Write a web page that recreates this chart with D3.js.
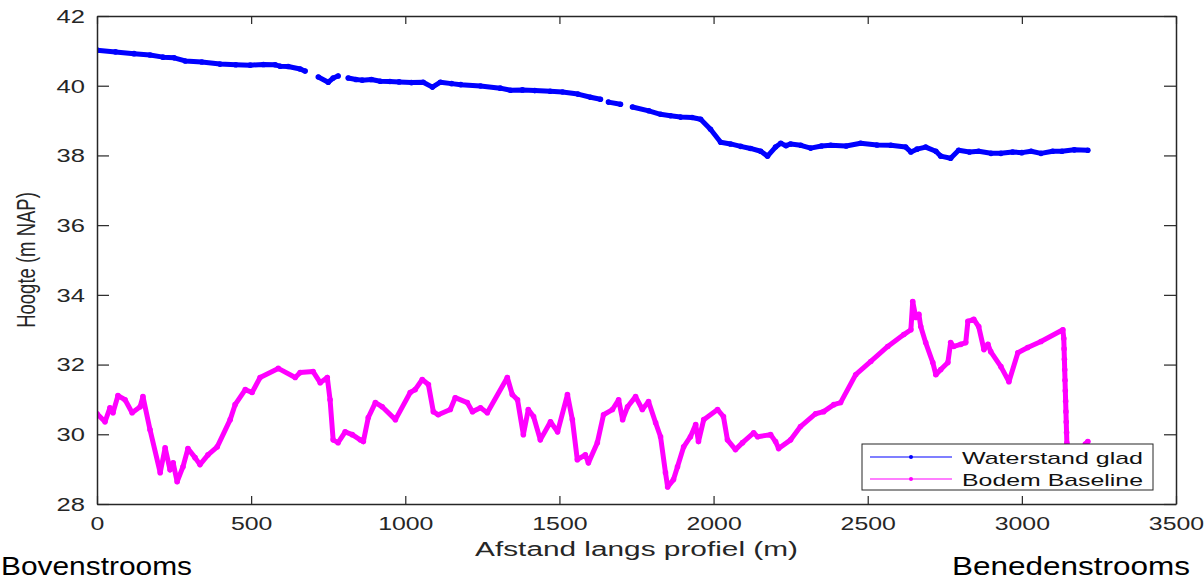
<!DOCTYPE html>
<html>
<head>
<meta charset="utf-8">
<script src="https://cdn.jsdelivr.net/npm/d3@7"></script>
<style>
  html, body { margin: 0; padding: 0; background: #fff; }
  svg { display: block; font-family: Arial, "Liberation Sans", Helvetica, sans-serif; }
</style>
</head>
<body>
<svg id="chart" width="1204" height="580"></svg>
<script>
// ---------- DATA ----------
const xTicks = [0, 500, 1000, 1500, 2000, 2500, 3000, 3500];
const yTicks = [28, 30, 32, 34, 36, 38, 40, 42];

// Waterstand glad (null = gap in the measurements)
const distW = [0, 60, 120, 172, 214, 250, 286, 340, 399, 450, 497, 540, 578, 594, 620, 659, 675, 696,
  718, 750, 766, 782, 800,
  815, 840, 860, 890, 919, 950, 980, 1020, 1058, 1088, 1114, 1150, 1180, 1244, 1308, 1341, 1380, 1420, 1470, 1510, 1560, 1601, 1633, 1646,
  1659, 1698, 1718,
  1737, 1790, 1828, 1860, 1893, 1930, 1958, 1990, 2023, 2055, 2088, 2120, 2153, 2175, 2201, 2218, 2235, 2250, 2283, 2315, 2350, 2380,
  2430, 2477, 2530, 2575, 2623, 2640, 2660, 2688, 2721, 2737, 2769, 2795, 2830, 2860, 2900, 2932, 2970, 3000, 3030, 3062, 3100, 3130, 3170, 3214];
const waterW = [41.02, 40.97, 40.92, 40.88, 40.82, 40.80, 40.71, 40.68, 40.62, 40.60, 40.59, 40.61, 40.60, 40.56, 40.55, 40.48, 40.42, null,
  40.25, 40.10, 40.22, 40.28, null,
  40.22, 40.18, 40.16, 40.18, 40.13, 40.12, 40.11, 40.09, 40.10, 39.96, 40.10, 40.06, 40.03, 39.99, 39.93, 39.87, 39.88, 39.86, 39.84, 39.82, 39.76, 39.67, 39.61, null,
  39.53, 39.47, null,
  39.39, 39.28, 39.18, 39.14, 39.10, 39.09, 39.04, 38.75, 38.38, 38.33, 38.26, 38.20, 38.12, 37.98, 38.24, 38.35, 38.28, 38.33, 38.29, 38.21, 38.27, 38.29,
  38.27, 38.35, 38.30, 38.29, 38.24, 38.10, 38.18, 38.24, 38.12, 37.98, 37.92, 38.15, 38.10, 38.12, 38.06, 38.06, 38.10, 38.08, 38.12, 38.06, 38.12, 38.12, 38.16, 38.15];

// Bodem Baseline
const distB = [0, 26, 42, 52, 68, 91, 114, 140, 149, 172, 205, 221, 237, 247, 260, 279, 295, 318, 334, 360, 390,
  432, 448, 481, 503, 529, 588, 643, 659, 701, 724, 747, 756, 766, 782, 805, 828, 854, 864, 880, 903, 925, 968,
  1016, 1032, 1055, 1075, 1091, 1107, 1146, 1162, 1201, 1218, 1244, 1266, 1331, 1347, 1364, 1383, 1399, 1416,
  1438, 1471, 1494, 1526, 1542, 1558, 1584, 1594, 1623, 1643, 1672, 1692, 1705, 1721, 1747, 1769, 1789, 1812,
  1828, 1844, 1851, 1870, 1883, 1903, 1925, 1942, 1951, 1968, 2013, 2032, 2045, 2071, 2094, 2130, 2143, 2185,
  2201, 2211, 2250, 2282, 2331, 2357, 2390, 2412, 2461, 2510, 2565, 2617, 2640, 2646, 2656, 2666, 2672, 2688,
  2711, 2721, 2737, 2760, 2769, 2779, 2802, 2818, 2825, 2844, 2860, 2877, 2890, 2899, 2932, 2958, 2987, 3019,
  3062, 3133, 3136, 3137, 3138, 3139, 3140, 3141, 3142, 3143, 3144, 3145, 3146, 3147,
  3160, 3206, 3214];
const bodemB = [30.59, 30.36, 30.76, 30.62, 31.11, 30.99, 30.62, 30.79, 31.08, 30.13, 28.90, 29.61, 28.98, 29.18, 28.64, 29.07, 29.59, 29.33, 29.13, 29.41, 29.64,
  30.42, 30.85, 31.28, 31.20, 31.63, 31.89, 31.63, 31.77, 31.80, 31.48, 31.63, 30.99, 29.84, 29.76, 30.07, 29.99, 29.84, 29.79, 30.48, 30.91, 30.79, 30.42,
  31.20, 31.28, 31.57, 31.43, 30.65, 30.56, 30.71, 31.05, 30.91, 30.65, 30.76, 30.62, 31.63, 31.14, 30.99, 29.99, 30.71, 30.51,
  29.84, 30.36, 30.07, 31.14, 30.42, 29.27, 29.41, 29.18, 29.76, 30.56, 30.71, 30.99, 30.42, 30.79, 31.08, 30.71, 30.94, 30.33,
  29.93, 28.90, 28.49, 28.70, 29.07, 29.64, 29.93, 30.28, 29.79, 30.42, 30.71, 30.51, 29.84, 29.56, 29.76, 30.04, 29.93, 29.99,
  29.79, 29.59, 29.84, 30.22, 30.59, 30.65, 30.85, 30.91, 31.71, 32.09, 32.52, 32.86, 33.00, 33.81, 33.35, 33.44, 33.09, 32.63,
  32.06, 31.71, 31.86, 32.06, 32.63, 32.52, 32.58, 32.63, 33.24, 33.30, 33.09, 32.43, 32.58, 32.37, 31.94, 31.51, 32.34, 32.49,
  32.66, 33.00, 32.75, 32.45, 32.15, 31.85, 31.55, 31.25, 30.95, 30.65, 30.35, 30.05, 29.75, 29.50,
  null, 29.72, 29.79];

const seriesNames = ["Waterstand glad", "Bodem Baseline"];
const seriesColors = ["#0000ff", "#ff00ff"];

// ---------- CHART ----------
const svg = d3.select("#chart");
const L = 97, R = 1176, T = 16, B = 504;
const SX = 1.42; // horizontal stretch of the original figure's text
const axisColor = "#262626";

const x = d3.scaleLinear().domain([0, 3500]).range([L, R]);
const y = d3.scaleLinear().domain([28, 42]).range([B, T]);

const plot = svg.append("g");
plot.append("defs").append("clipPath").attr("id", "clip")
  .append("rect").attr("x", L).attr("y", T).attr("width", R - L).attr("height", B - T);

function styleAxis(g) {
  g.select(".domain").attr("stroke", axisColor).attr("stroke-width", 1.5);
  g.selectAll(".tick line").attr("stroke", axisColor).attr("stroke-width", 1.2);
  g.selectAll(".tick text").attr("fill", axisColor).style("font-size", "18px");
}

// bottom axis
const gx = svg.append("g").attr("transform", `translate(0,${B})`)
  .call(d3.axisBottom(x).tickValues(xTicks).tickFormat(d3.format("d")).tickSizeInner(-8).tickSizeOuter(0).tickPadding(0));
styleAxis(gx);
gx.selectAll(".tick text").attr("y", 0).attr("dy", 0)
  .attr("transform", `translate(0,26) scale(1.38,1)`);

// top axis
const gxt = svg.append("g").attr("transform", `translate(0,${T})`)
  .call(d3.axisTop(x).tickValues(xTicks).tickFormat("").tickSizeInner(-8).tickSizeOuter(0));
styleAxis(gxt);

// left axis
const gy = svg.append("g").attr("transform", `translate(${L},0)`)
  .call(d3.axisLeft(y).tickValues(yTicks).tickFormat(d3.format("d")).tickSizeInner(-12).tickSizeOuter(0).tickPadding(0));
styleAxis(gy);
gy.selectAll(".tick text").attr("x", 0).attr("dy", "0.35em")
  .attr("transform", `translate(-12,0) scale(${SX},1)`);

// right axis
const gyr = svg.append("g").attr("transform", `translate(${R},0)`)
  .call(d3.axisRight(y).tickValues(yTicks).tickFormat("").tickSizeInner(-12).tickSizeOuter(0));
styleAxis(gyr);

// series
const dataW = distW.map((d, i) => ({ x: d, y: waterW[i] }));
const dataB = distB.map((d, i) => ({ x: d, y: bodemB[i] }));
const line = d3.line().defined(d => d.y !== null).x(d => x(d.x)).y(d => y(d.y));

[dataW, dataB].forEach((data, k) => {
  const g = plot.append("g").attr("clip-path", "url(#clip)");
  g.append("path").datum(data)
    .attr("fill", "none")
    .attr("stroke", seriesColors[k])
    .attr("stroke-width", 5)
    .attr("stroke-linejoin", "round")
    .attr("stroke-linecap", "round")
    .attr("d", line);
  g.selectAll("circle").data(data.filter(d => d.y !== null)).join("circle")
    .attr("cx", d => x(d.x)).attr("cy", d => y(d.y)).attr("r", 2.8)
    .attr("fill", seriesColors[k]);
});

// axis labels
svg.append("text")
  .attr("transform", `translate(${(L + R) / 2},556) scale(${SX},1)`)
  .attr("text-anchor", "middle").attr("fill", axisColor)
  .style("font-size", "21px")
  .text("Afstand langs profiel (m)");

svg.append("text")
  .attr("transform", `translate(35,${(T + B) / 2}) scale(${SX},1) rotate(-90)`)
  .attr("text-anchor", "middle").attr("fill", axisColor)
  .style("font-size", "18.5px")
  .text("Hoogte (m NAP)");

// legend
const lg = svg.append("g");
lg.append("rect").attr("x", 862).attr("y", 444).attr("width", 291).attr("height", 46)
  .attr("fill", "#fff").attr("stroke", axisColor).attr("stroke-width", 1);
seriesNames.forEach((name, i) => {
  const yy = 457 + i * 22;
  lg.append("line").attr("x1", 870).attr("x2", 952).attr("y1", yy).attr("y2", yy)
    .attr("stroke", seriesColors[i]).attr("stroke-width", 1.2);
  lg.append("circle").attr("cx", 911).attr("cy", yy).attr("r", 2).attr("fill", seriesColors[i]);
  lg.append("text").attr("x", 962).attr("y", yy + 6.5)
    .attr("textLength", 181).attr("lengthAdjust", "spacingAndGlyphs")
    .attr("fill", "#111").style("font-size", "17px").text(name);
});

// upstream / downstream annotations
svg.append("text").attr("x", 1).attr("y", 575)
  .attr("textLength", 191).attr("lengthAdjust", "spacingAndGlyphs")
  .attr("fill", "#000").style("font-size", "26px").text("Bovenstrooms");
svg.append("text").attr("x", 952).attr("y", 575)
  .attr("textLength", 238).attr("lengthAdjust", "spacingAndGlyphs")
  .attr("fill", "#000").style("font-size", "26px").text("Benedenstrooms");
</script>
</body>
</html>
